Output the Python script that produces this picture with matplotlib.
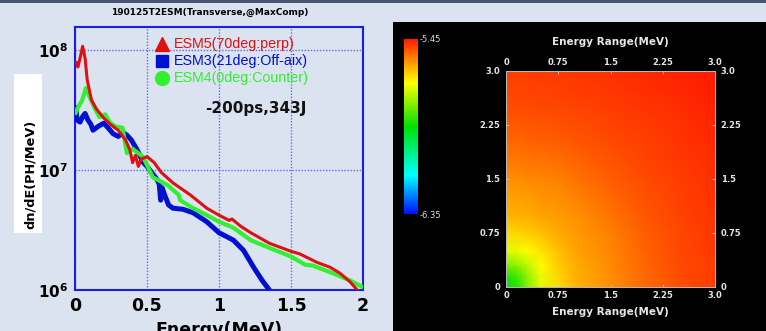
import numpy as np
import matplotlib
matplotlib.use('Agg')
import matplotlib.pyplot as plt
from matplotlib.colors import LinearSegmentedColormap
from matplotlib.patches import Rectangle
from matplotlib.lines import Line2D

# ---------------- data ----------------
title = "190125T2ESM(Transverse,@MaxComp)"
annot = "-200ps,343J"
x_ticks = [0, 0.5, 1, 1.5, 2]
x_tick_labels = ["0", "0.5", "1", "1.5", "2"]
y_ticks = [1e6, 1e7, 1e8]
y_tick_labels = [r"$\mathbf{10^{6}}$", r"$\mathbf{10^{7}}$", r"$\mathbf{10^{8}}$"]

esm5_label = "ESM5(70deg:perp)"
esm5_E = [0.01, 0.02, 0.035, 0.053, 0.07, 0.085, 0.10, 0.115, 0.15, 0.2, 0.25, 0.3,
          0.35, 0.38, 0.40, 0.42, 0.44, 0.46, 0.5, 0.55, 0.6, 0.68, 0.8, 0.915, 1.0,
          1.07, 1.09, 1.15, 1.22, 1.35, 1.5, 1.56, 1.68, 1.77, 1.84, 1.91, 1.96, 1.98]
esm5_v = [7.8e7, 7.2e7, 8.5e7, 1.07e8, 8.5e7, 5.6e7, 4.6e7, 3.8e7, 3.2e7, 2.7e7, 2.37e7, 2.14e7,
          1.78e7, 1.48e7, 1.15e7, 1.32e7, 1.07e7, 1.23e7, 1.29e7, 1.15e7, 9.5e6, 7.8e6, 6.2e6, 4.8e6, 4.2e6,
          3.8e6, 3.9e6, 3.4e6, 3.0e6, 2.45e6, 2.1e6, 2.0e6, 1.7e6, 1.55e6, 1.38e6, 1.17e6, 1.0e6, 0.95e6]

esm3_label = "ESM3(21deg:Off-aix)"
esm3_E = [0.005, 0.015, 0.035, 0.055, 0.07, 0.09, 0.11, 0.125, 0.16, 0.2, 0.23, 0.265, 0.3,
          0.335, 0.36, 0.39, 0.43, 0.475, 0.5, 0.57, 0.585, 0.595, 0.605, 0.62, 0.65, 0.68,
          0.75, 0.82, 0.915, 1.0, 1.1, 1.17, 1.24, 1.3, 1.35]
esm3_v = [3.3e7, 2.6e7, 2.5e7, 2.8e7, 2.95e7, 2.6e7, 2.4e7, 2.14e7, 2.3e7, 2.45e7, 2.24e7, 2.0e7, 1.9e7,
          2.04e7, 1.95e7, 1.78e7, 1.48e7, 1.15e7, 1.07e7, 8.3e6, 7.6e6, 5.6e6, 7.1e6, 6.3e6, 5.1e6, 4.8e6,
          4.7e6, 4.4e6, 3.7e6, 3.0e6, 2.6e6, 2.14e6, 1.55e6, 1.2e6, 1.0e6]

esm4_label = "ESM4(0deg:Counter)"
esm4_E = [0.005, 0.02, 0.05, 0.075, 0.1, 0.14, 0.17, 0.21, 0.24, 0.28, 0.33, 0.36, 0.4, 0.47,
          0.5, 0.54, 0.64, 0.72, 0.73, 0.82, 0.915, 1.0, 1.1, 1.22, 1.35, 1.5, 1.6, 1.65, 1.68,
          1.79, 1.91, 1.99]
esm4_v = [3.0e7, 3.3e7, 3.8e7, 4.8e7, 4.1e7, 3.2e7, 2.75e7, 2.9e7, 2.5e7, 2.3e7, 2.24e7, 1.38e7, 1.5e7, 1.29e7,
          1.1e7, 8.7e6, 7.5e6, 6.2e6, 5.6e6, 4.8e6, 4.2e6, 3.7e6, 3.3e6, 2.6e6, 2.24e6, 1.9e6, 1.62e6, 1.6e6, 1.55e6,
          1.38e6, 1.2e6, 1.07e6]

# heat map (normalized level between colour-bar ends)
cbar_min, cbar_max = -6.35, -5.45
heat_grid = [0, 0.15, 0.3, 0.5, 0.75, 1.0, 1.5, 2.0, 2.5, 3.0]
heat_frac = [
    [0.48, 0.53, 0.62, 0.72, 0.79, 0.835, 0.875, 0.915, 0.945, 0.962],
    [0.53, 0.56, 0.64, 0.73, 0.795, 0.838, 0.876, 0.916, 0.946, 0.963],
    [0.62, 0.64, 0.68, 0.75, 0.805, 0.843, 0.879, 0.918, 0.948, 0.964],
    [0.72, 0.73, 0.75, 0.78, 0.82, 0.852, 0.884, 0.922, 0.95, 0.965],
    [0.79, 0.795, 0.805, 0.82, 0.845, 0.862, 0.892, 0.928, 0.953, 0.967],
    [0.835, 0.838, 0.843, 0.852, 0.862, 0.873, 0.903, 0.934, 0.956, 0.97],
    [0.875, 0.876, 0.879, 0.884, 0.892, 0.903, 0.928, 0.948, 0.963, 0.975],
    [0.915, 0.916, 0.918, 0.922, 0.928, 0.934, 0.948, 0.96, 0.971, 0.982],
    [0.945, 0.946, 0.948, 0.95, 0.953, 0.956, 0.963, 0.971, 0.98, 0.99],
    [0.962, 0.963, 0.964, 0.965, 0.967, 0.97, 0.975, 0.982, 0.99, 1.0],
]
heat_ticks = [0, 0.75, 1.5, 2.25, 3.0]
heat_tick_labels = ["0", "0.75", "1.5", "2.25", "3.0"]
heat_axis_label = "Energy Range(MeV)"

# ---------------- figure ----------------
W, H = 766, 331
fig = plt.figure(figsize=(W / 100, H / 100), dpi=100)
BG = '#dbe3f1'
fig.patch.set_facecolor(BG)


def fx(px):
    return px / W


def fy(py):
    return 1 - py / H


fig.add_artist(Rectangle((0, fy(3)), 1, 3 / H, transform=fig.transFigure,
                         facecolor='#46546e', edgecolor='none', zorder=-2))
fig.add_artist(Rectangle((fx(393), 0), (W - 393) / W, fy(22), transform=fig.transFigure,
                         facecolor='black', edgecolor='none', zorder=-2))
fig.add_artist(Rectangle((fx(14), fy(233)), 28 / W, 159 / H, transform=fig.transFigure,
                         facecolor='white', edgecolor='none', zorder=-1))

# ---------- left spectrum plot ----------
ax = fig.add_axes([fx(75), fy(290), 288 / W, 263 / H])
ax.set_facecolor(BG)
ax.set_yscale('log')
ax.plot(esm3_E, esm3_v, color='#0010d0', lw=3.6, zorder=3)
ax.plot(esm4_E, esm4_v, color='#30f030', lw=3.0, zorder=4)
ax.plot(esm5_E, esm5_v, color='#e01010', lw=2.2, zorder=5)
ax.set_xlim(0, 2)
ax.set_ylim(1e6, 10 ** 8.19)
ax.set_xticks(x_ticks)
ax.set_xticklabels(x_tick_labels)
ax.set_yticks(y_ticks)
ax.set_yticklabels(y_tick_labels)
ax.yaxis.set_minor_locator(matplotlib.ticker.NullLocator())
ax.tick_params(axis='x', length=0, labelsize=12.5, pad=5)
ax.tick_params(axis='y', length=0, labelsize=11, pad=5)
for lab in ax.get_xticklabels():
    lab.set_fontweight('bold')
ax.grid(True, which='major', color='#6a6af0', linestyle=(0, (1, 1.2)), lw=1)
for s in ax.spines.values():
    s.set_color('#1c1ce8')
    s.set_linewidth(1.5)

# legend
for yy, mk, ms, col, lab in [(0.935, '^', 10, '#e01010', esm5_label),
                             (0.871, 's', 9, '#0010d0', esm3_label),
                             (0.806, 'o', 10, '#30f030', esm4_label)]:
    ax.add_line(Line2D([0.302], [yy], transform=ax.transAxes, marker=mk, ms=ms,
                       color=col, linestyle='none', zorder=6))
    ax.text(0.345, yy, lab, transform=ax.transAxes, color=col, fontsize=10.3,
            family='Liberation Sans', va='center', ha='left', zorder=6)
ax.text(0.451, 0.692, annot, transform=ax.transAxes, fontsize=11, weight='bold',
        va='center', ha='left', color='#111111')

fig.text(fx(210), fy(12), title, ha='center', va='center', fontsize=6.5, weight='bold')
fig.text(fx(30), fy(174), "dn/dE(PH/MeV)", rotation=90, ha='center', va='center',
         fontsize=9.3, weight='bold', zorder=2)
fig.text(fx(219), fy(321), "Energy(MeV)", ha='center', va='top', fontsize=12.5, weight='bold')

# ---------- right heat map ----------
cmap = LinearSegmentedColormap.from_list('rb', [(0.0, '#0010ff'), (0.22, '#00ffff'),
                                                (0.5, '#00e000'), (0.75, '#ffff00'),
                                                (0.88, '#ff8c00'), (1.0, '#ff1a00')])
heat_values = cbar_min + (cbar_max - cbar_min) * np.array(heat_frac)

hx = fig.add_axes([fx(506), fy(287), 209 / W, 216 / H])
hx.set_facecolor('black')
mesh = hx.pcolormesh(heat_grid, heat_grid, heat_values, shading='gouraud', cmap=cmap,
                     vmin=cbar_min, vmax=cbar_max)
hx.set_xlim(0, 3)
hx.set_ylim(0, 3)
hx.set_xticks(heat_ticks)
hx.set_xticklabels(heat_tick_labels)
hx.set_yticks(heat_ticks)
hx.set_yticklabels(heat_tick_labels)
hx.tick_params(top=True, labeltop=True, right=True, labelright=True, direction='in',
               length=2.5, width=0.6, color='#cccccc', labelcolor='#e6e6e6', labelsize=6, pad=4)
hx.tick_params(axis='x', which='both', pad=3)
for lab in hx.get_xticklabels() + hx.get_yticklabels():
    lab.set_fontweight('bold')
for s in hx.spines.values():
    s.set_color('#bbbbbb')
    s.set_linewidth(0.7)
fig.text(fx(610), fy(42), heat_axis_label, ha='center', va='center', fontsize=7.5,
         weight='bold', color='#e6e6e6')
fig.text(fx(610), fy(312), heat_axis_label, ha='center', va='center', fontsize=7.5,
         weight='bold', color='#e6e6e6')

cax = fig.add_axes([fx(404), fy(214), 14 / W, 175 / H])
cb = fig.colorbar(mesh, cax=cax, ticks=[cbar_min, cbar_max])
cb.ax.set_yticklabels(["-6.35", "-5.45"])
cb.outline.set_visible(False)
cb.ax.tick_params(length=0, labelsize=6, labelcolor='#dddddd', pad=1)

fig.savefig('out.png', dpi=100, facecolor=fig.get_facecolor())
